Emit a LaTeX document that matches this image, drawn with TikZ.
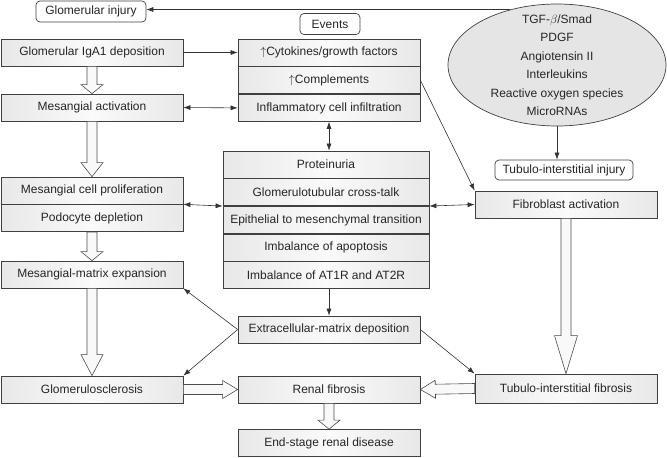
\documentclass[tikz,border=0pt]{standalone}
\usepackage{fontspec}
\setmainfont{Liberation Sans}
\usepackage{tikz}
\usetikzlibrary{arrows.meta}
\usetikzlibrary{calc}
\usetikzlibrary{positioning}
\usetikzlibrary{shapes.geometric}

% hollow block arrow: from, to, head length, head half width
\newcommand{\hollowarrow}[4]{%
  \coordinate (hb) at ($(#2)!#3!(#1)$);
  \draw[hollow] ($(#1)!5pt!90:(#2)$) -- ($(hb)!5pt!90:(#2)$) -- ($(hb)!#4!90:(#2)$) -- (#2)
    -- ($(hb)!#4!-90:(#2)$) -- ($(hb)!5pt!-90:(#2)$) -- ($(#1)!5pt!-90:(#2)$) -- cycle;
}

\begin{document}
\begin{tikzpicture}[x=1pt, y=-1pt, >={Latex[length=7pt,width=5pt]}]
		\tikzset{
			box/.style={draw=black!75, line width=0.7pt, shade, left color=gray!18, right color=gray!18, middle color=gray!4,
				minimum width=182pt, minimum height=27pt, inner sep=0pt, text=black!85, font=\fontsize{12}{14}\selectfont},
			wide/.style={box, minimum width=206pt},
			tag/.style={draw=black!75, line width=0.7pt, fill=white, rounded corners=4pt, minimum height=21pt,
				inner sep=0pt, text=black!85, font=\fontsize{12}{14}\selectfont},
			arr/.style={->, draw=black!80, line width=0.6pt},
			dbl/.style={<->, draw=black!80, line width=0.6pt},
			hollow/.style={draw=black!70, line width=0.6pt, fill=gray!5},
		}
		\useasboundingbox (0,0) rectangle (667,458);

		% left column
		\node[tag, minimum width=110pt] (ginj) at (91,11.5) {Glomerular injury};
		\node[box] (igad) at (92,52.5) {Glomerular IgA1 deposition};
		\node[box] (mact) at (92,107.5) {Mesangial activation};
		\node[box] (mcp) at (92,190.5) {Mesangial cell proliferation};
		\node[box, below=0pt of mcp] (pod) {Podocyte depletion};
		\node[box] (mme) at (92,274.5) {Mesangial-matrix expansion};
		\node[box] (gs) at (92,389.5) {Glomerulosclerosis};

		% middle column
		\node[tag, minimum width=60pt] (events) at (330,24) {Events};
		\node[box] (cyt) at (329,52.5) {$\uparrow$Cytokines/growth factors};
		\node[box, below=0pt of cyt] (cmp) {$\uparrow$Complements};
		\node[box, below=0pt of cmp] (inf) {Inflammatory cell infiltration};
		\node[wide] (prot) at (326,164.5) {Proteinuria};
		\node[wide, below=0pt of prot] (gtc) {Glomerulotubular cross-talk};
		\node[wide, below=0pt of gtc] (emt) {Epithelial to mesenchymal transition};
		\node[wide, below=0pt of emt] (apo) {Imbalance of apoptosis};
		\node[wide, below=0pt of apo] (ats) {Imbalance of AT1R and AT2R};
		\node[box] (ecm) at (329,329.5) {Extracellular-matrix deposition};
		\node[box] (rf) at (329,389.5) {Renal fibrosis};
		\node[box] (esrd) at (329,443) {End-stage renal disease};

		% right column
		\node[ellipse, draw=black!75, line width=0.7pt, fill=gray!20, minimum width=218pt, minimum height=122pt, inner sep=0pt] (fac) at (557,65) {};
		\node[align=center, text=black!85, font=\fontsize{12}{18.5}\selectfont] (facs) at (fac) {TGF-$\beta$/Smad\\PDGF\\Angiotensin II\\Interleukins\\Reactive oxygen species\\MicroRNAs};
		\node[tag, minimum width=138pt, minimum height=20pt] (tii) at (564,170) {Tubulo-interstitial injury};
		\node[box] (fib) at (566,204.5) {Fibroblast activation};
		\node[box, minimum height=29pt] (tif) at (566,388.5) {Tubulo-interstitial fibrosis};

		% thin connectors
		\draw[arr] (fac.130) -- (fac.130 -| ginj.east);
		\draw[arr] (fac.south) -- (fac.south |- tii.north);
		\draw[arr] (igad.east) -- (cyt.west);
		\draw[dbl] (mact.east) -- (inf.west);
		\draw[dbl] (inf.south) -- (inf.south |- prot.north);
		\draw[dbl] (pod.north east) -- (gtc.south west);
		\draw[dbl] (gtc.south east) -- (fib.west);
		\draw[arr] (cmp.east) -- (fib.north west);
		\draw[arr] (ecm.north |- ats.south) -- (ecm.north);
		\draw[arr] (ecm.west) -- (mme.south east);
		\draw[arr] (ecm.west) -- (gs.north east);
		\draw[arr] (ecm.east) -- (tif.north west);

		% block arrows
		\hollowarrow{igad.south}{mact.north}{9pt}{11pt}
		\hollowarrow{mact.south}{mcp.north}{14pt}{11pt}
		\hollowarrow{pod.south}{mme.north}{9pt}{11pt}
		\hollowarrow{mme.south}{gs.north}{21pt}{11pt}
		\hollowarrow{gs.east}{rf.west}{15pt}{9pt}
		\hollowarrow{tif.west}{rf.east}{15pt}{9pt}
		\hollowarrow{rf.south}{esrd.north}{9pt}{11pt}
		\hollowarrow{fib.south}{tif.north}{38pt}{11.5pt}
	\end{tikzpicture}
\end{document}
